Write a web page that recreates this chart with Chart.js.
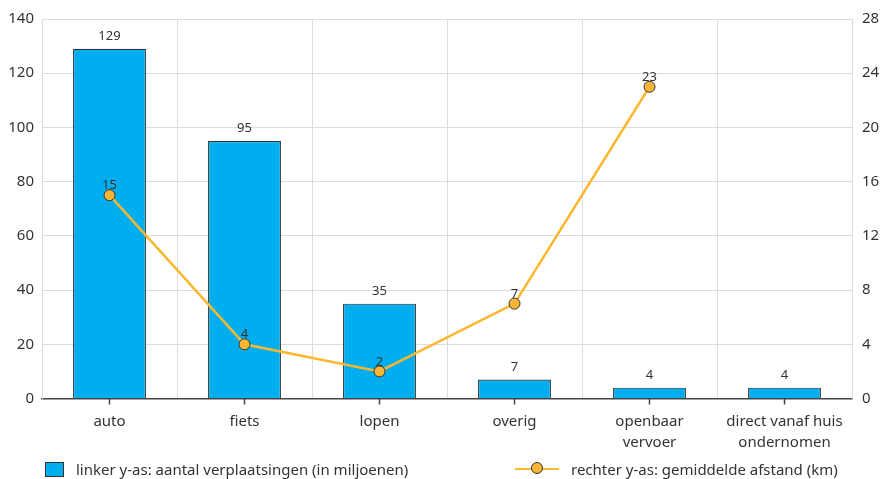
<!DOCTYPE html>
<html>
<head>
<meta charset="utf-8">
<script src="https://cdn.jsdelivr.net/npm/chart.js@4"></script>
<style>
  body { margin: 0; background: #fff; font-family: "Noto Sans", sans-serif; }
  #wrap { position: relative; width: 891px; height: 479px; }
  #legend { position: absolute; top: 459px; left: 0; width: 891px; height: 22px; font-size: 15px; color: #333; }
  .item { position: absolute; top: 0; display: flex; align-items: center; height: 20px; }
  .box { width: 17px; height: 13px; background: #00aeef; border: 1px solid #333; margin-right: 12px; }
  .ln { position: relative; width: 44px; height: 2px; background: #fbb72e; margin-right: 12px; }
  .dot { position: absolute; left: 16px; top: -6px; width: 12px; height: 12px; border-radius: 50%; background: #fbb534; border: 1px solid #333; box-sizing: border-box; }
  canvas { position: absolute; top: 0; left: 0; }
</style>
</head>
<body>
<div id="wrap">
  <canvas id="chart" width="891" height="466"></canvas>
  <div id="legend">
    <div class="item" style="left:45px"><span class="box"></span>linker y-as: aantal verplaatsingen (in miljoenen)</div>
    <div class="item" style="left:515px"><span class="ln"><span class="dot"></span></span>rechter y-as: gemiddelde afstand (km)</div>
  </div>
</div>
<script>
// categorieën en waarden
const categories = ['auto', 'fiets', 'lopen', 'overig', ['openbaar', 'vervoer'], ['direct vanaf huis', 'ondernomen']];
const verplaatsingen = [129, 95, 35, 7, 4, 4];
const afstand = [15, 4, 2, 7, 23, null];

const textColor = '#333';
const gridColor = '#dcdcdc';

// labels boven de balken en punten
const valueLabels = {
    id: 'valueLabels',
    afterDatasetsDraw(chart) {
        const ctx = chart.ctx;
        ctx.save();
        ctx.fillStyle = textColor;
        ctx.font = '13px "Noto Sans"';
        ctx.textAlign = 'center';
        ctx.textBaseline = 'bottom';
        chart.data.datasets.forEach((ds, i) => {
            const meta = chart.getDatasetMeta(i);
            meta.data.forEach((el, j) => {
                const v = ds.data[j];
                if (v === null) return;
                const off = ds.type === 'line' ? 3 : 6;
                ctx.fillText(v, el.x, el.y - off);
            });
        });
        ctx.restore();
    }
};

// tickmarks op het midden van elke categorie
const centerTicks = {
    id: 'centerTicks',
    afterDraw(chart) {
        const x = chart.scales.x;
        const ctx = chart.ctx;
        ctx.save();
        ctx.strokeStyle = '#444';
        ctx.lineWidth = 1.5;
        categories.forEach((c, i) => {
            const px = x.getPixelForValue(i);
            ctx.beginPath();
            ctx.moveTo(px, x.top);
            ctx.lineTo(px, x.top + 6);
            ctx.stroke();
        });
        ctx.restore();
    }
};

const ctx = document.getElementById('chart').getContext('2d');
new Chart(ctx, {
    data: {
        labels: categories,
        datasets: [{
            type: 'line',
            label: 'rechter y-as: gemiddelde afstand (km)',
            data: afstand,
            yAxisID: 'y1',
            borderColor: '#fbb72e',
            borderWidth: 2.5,
            pointBackgroundColor: '#fbb534',
            pointBorderColor: '#333',
            pointBorderWidth: 1,
            pointRadius: 5.5,
            tension: 0,
            order: 0
        }, {
            type: 'bar',
            label: 'linker y-as: aantal verplaatsingen (in miljoenen)',
            data: verplaatsingen,
            yAxisID: 'y',
            backgroundColor: '#00aeef',
            borderColor: '#333',
            borderWidth: 1.2,
            categoryPercentage: 0.54,
            barPercentage: 1,
            order: 1
        }]
    },
    options: {
        responsive: false,
        animation: false,
        layout: { padding: { top: 12, left: 0, right: 0, bottom: 0 } },
        plugins: {
            legend: { display: false },
            tooltip: { enabled: false }
        },
        scales: {
            x: {
                grid: { offset: true, color: gridColor, drawTicks: false },
                border: { color: '#444', width: 1.5 },
                ticks: { color: textColor, font: { family: 'Noto Sans', size: 15, lineHeight: 1.45 }, padding: 12, maxRotation: 0, autoSkip: false }
            },
            y: {
                position: 'left',
                min: 0, max: 140,
                ticks: { stepSize: 20, color: textColor, font: { family: 'Noto Sans', size: 15 }, padding: 8 },
                grid: { color: gridColor, drawTicks: false },
                border: { color: gridColor },
                afterFit(s) { s.width = 42; }
            },
            y1: {
                position: 'right',
                min: 0, max: 28,
                ticks: { stepSize: 4, color: textColor, font: { family: 'Noto Sans', size: 15 }, padding: 10 },
                grid: { drawOnChartArea: false, drawTicks: false },
                border: { color: gridColor },
                afterFit(s) { s.width = 39; }
            }
        }
    },
    plugins: [valueLabels, centerTicks]
});
</script>
</body>
</html>
